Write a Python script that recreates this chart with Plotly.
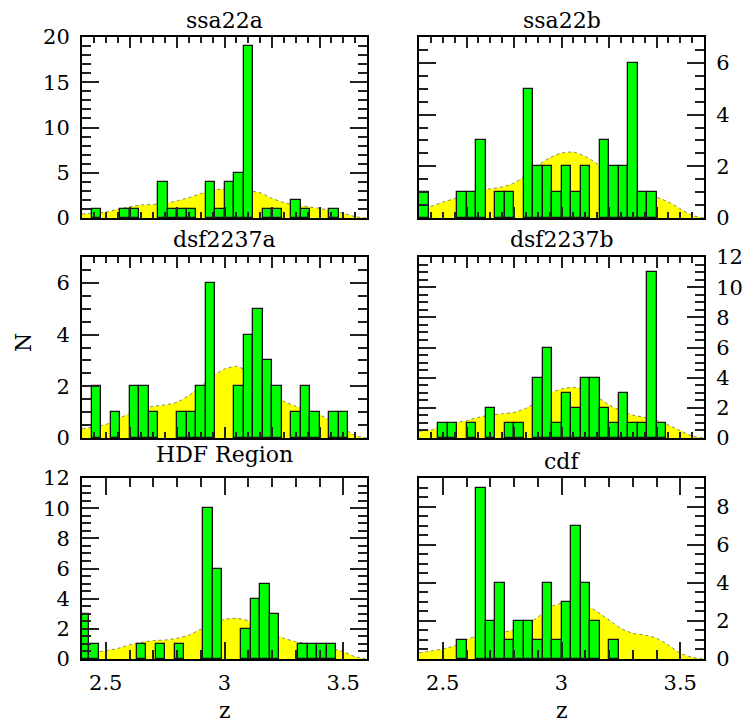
import plotly.graph_objects as go

# ---------------- data ----------------
bin_width = 0.04
z_grid = [2.40, 2.45, 2.50, 2.55, 2.60, 2.65, 2.70, 2.75, 2.80, 2.85, 2.90, 2.95,
          3.00, 3.05, 3.10, 3.15, 3.20, 3.25, 3.30, 3.35, 3.40, 3.45, 3.50, 3.55, 3.60]

panel_names = ["ssa22a", "ssa22b", "dsf2237a", "dsf2237b", "HDF Region", "cdf"]

# first bin edge for each field
ssa22a_edge0 = 2.40
ssa22b_edge0 = 2.40
dsf2237a_edge0 = 2.40
dsf2237b_edge0 = 2.40
hdf_edge0 = 2.39
cdf_edge0 = 2.40

# histogram counts (30 bins each, width 0.04)
ssa22a_counts = [0, 1, 0, 0, 1, 1, 0, 0, 4, 1, 1, 1, 0, 4, 1, 4, 5, 19, 0, 1, 1, 0, 2, 1, 0, 0, 1, 0, 0, 0]
ssa22b_counts = [1, 0, 0, 0, 1, 1, 3, 0, 1, 1, 0, 5, 2, 2, 1, 2, 1, 2, 0, 3, 2, 2, 6, 1, 1, 0, 0, 0, 0, 0]
dsf2237a_counts = [0, 2, 0, 1, 0, 2, 2, 1, 0, 0, 1, 1, 2, 6, 0, 0, 2, 4, 5, 3, 2, 0, 1, 2, 1, 0, 1, 1, 0, 0]
dsf2237b_counts = [0, 0, 1, 1, 0, 1, 0, 2, 0, 1, 1, 0, 4, 6, 1, 3, 2, 4, 4, 2, 1, 3, 1, 1, 11, 1, 0, 0, 0, 0]
hdf_counts = [3, 1, 0, 0, 0, 0, 1, 0, 1, 0, 1, 0, 0, 10, 6, 0, 0, 2, 4, 5, 3, 0, 0, 1, 1, 1, 1, 0, 0, 0]
cdf_counts = [0, 0, 0, 0, 1, 0, 9, 2, 4, 1, 2, 2, 1, 4, 1, 3, 7, 4, 2, 0, 1, 0, 0, 0, 0, 0, 0, 0, 0, 0]

# smooth expected distribution (yellow), sampled on z_grid
ssa22a_sel = [0.44, 0.55, 0.65, 0.96, 1.25, 1.43, 1.50, 1.60, 1.90, 2.25, 2.70, 3.10, 3.20,
              3.17, 3.00, 2.80, 2.17, 1.70, 1.44, 1.25, 1.07, 0.81, 0.52, 0.15, 0.0]
ssa22b_sel = [0.36, 0.45, 0.62, 0.75, 0.94, 1.07, 1.13, 1.20, 1.35, 1.65, 2.03, 2.33, 2.51,
              2.55, 2.38, 2.10, 1.71, 1.35, 1.13, 1.00, 0.81, 0.62, 0.36, 0.10, 0.0]
dsf2237a_sel = [0.35, 0.43, 0.52, 0.74, 0.94, 1.12, 1.23, 1.28, 1.38, 1.64, 2.00, 2.39, 2.67,
                2.77, 2.58, 2.13, 1.74, 1.42, 1.23, 1.06, 0.90, 0.65, 0.39, 0.09, 0.0]
dsf2237b_sel = [0.46, 0.53, 0.80, 1.02, 1.15, 1.37, 1.52, 1.60, 1.70, 1.97, 2.40, 2.96, 3.25,
                3.36, 3.18, 2.74, 2.19, 1.81, 1.52, 1.37, 1.19, 0.86, 0.49, 0.13, 0.0]
hdf_sel = [0.30, 0.44, 0.55, 0.70, 0.93, 1.10, 1.22, 1.26, 1.37, 1.59, 1.97, 2.36, 2.63,
           2.70, 2.54, 2.19, 1.70, 1.37, 1.15, 1.04, 0.99, 0.70, 0.49, 0.15, 0.0]
cdf_sel = [0.33, 0.42, 0.53, 0.70, 1.00, 1.26, 1.35, 1.40, 1.53, 1.79, 2.19, 2.72, 2.93,
           2.96, 2.84, 2.49, 2.05, 1.61, 1.35, 1.26, 1.09, 0.74, 0.30, 0.09, 0.0]

y_max = [20, 7, 7, 12, 12, 9.5]
y_major = [5, 2, 2, 2, 2, 2]
y_minor = [1, 0.5, 0.5, 0.5, 0.5, 0.5]

x_range = [2.4, 3.6]
x_tickvals_bottom = [2.5, 3.0, 3.5]
x_ticktext_bottom = ["2.5", "3", "3.5"]

edges0 = [ssa22a_edge0, ssa22b_edge0, dsf2237a_edge0, dsf2237b_edge0, hdf_edge0, cdf_edge0]
counts = [ssa22a_counts, ssa22b_counts, dsf2237a_counts, dsf2237b_counts, hdf_counts, cdf_counts]
sels = [ssa22a_sel, ssa22b_sel, dsf2237a_sel, dsf2237b_sel, hdf_sel, cdf_sel]

# ---------------- layout geometry ----------------
W, H = 756, 726
FONT = "DejaVu Serif"
TICKC = "#222222"
panel_px = [  # (x0, x1, y_top, y_bottom) in window pixels
    (82, 367, 37, 218), (419, 704, 37, 218),
    (82, 367, 257, 438), (419, 704, 257, 438),
    (82, 367, 478, 659), (419, 704, 478, 659),
]
title_pos = [(224.5, 20), (561.5, 20), (224.5, 239), (561.5, 239), (224.5, 454), (561.5, 461)]


def px_x(p):
    return p / W


def px_y(p):
    return 1 - p / H


fig = go.Figure()
layout = dict(
    template="none",
    width=W, height=H, margin=dict(l=0, r=0, t=0, b=0, pad=0),
    paper_bgcolor="white", plot_bgcolor="white", showlegend=False,
    font=dict(family=FONT, color="black", size=20),
    bargap=0,
)

annotations = []
for i in range(6):
    n = i + 1
    m = i + 7
    xa, ya = ("x", "y") if n == 1 else (f"x{n}", f"y{n}")
    xo, yo = f"x{m}", f"y{m}"
    # yellow curve on base axes
    fig.add_trace(go.Scatter(
        x=z_grid, y=sels[i], mode="lines", fill="tozeroy",
        fillcolor="#FFFF00",
        line=dict(color="#666666", width=0.8, dash="dot", shape="spline", smoothing=0.6),
        xaxis=xa, yaxis=ya, hoverinfo="skip"))
    # histogram bars on overlaid axes (drawn above the curve)
    cx, cy = [], []
    for k, c in enumerate(counts[i]):
        if c > 0:
            cx.append(edges0[i] + bin_width * (k + 0.5))
            cy.append(c)
    fig.add_trace(go.Bar(
        x=cx, y=cy, width=bin_width,
        marker=dict(color="#00FF00", line=dict(color="#111111", width=1.3)),
        xaxis=xo, yaxis=yo, hoverinfo="skip"))

    x0, x1, yt, yb = panel_px[i]
    bottom = i >= 4
    right = i % 2 == 1
    xkey = "xaxis" if n == 1 else f"xaxis{n}"
    ykey = "yaxis" if n == 1 else f"yaxis{n}"
    xd = dict(
        domain=[px_x(x0), px_x(x1)], anchor=ya, range=x_range, automargin=False,
        showline=True, linecolor="black", linewidth=2, mirror="ticks",
        showgrid=False, zeroline=False, ticks="inside", tickcolor=TICKC, tickwidth=1.5,
        layer="above traces",
    )
    if bottom:
        xd.update(tickmode="array", tickvals=x_tickvals_bottom, ticktext=x_ticktext_bottom,
                  ticklen=17, showticklabels=True, ticklabelstandoff=4,
                  tickfont=dict(family=FONT, size=21),
                  minor=dict(dtick=0.1, tick0=2.4, ticklen=9, ticks="inside",
                             tickcolor=TICKC, tickwidth=1.5, showgrid=False))
    else:
        xd.update(tick0=2.6, dtick=0.2, ticklen=11, showticklabels=False,
                  minor=dict(dtick=0.05, tick0=2.4, ticklen=6, ticks="inside",
                             tickcolor=TICKC, tickwidth=1.5, showgrid=False))
    yd = dict(
        domain=[px_y(yb), px_y(yt)], anchor=xa, range=[0, y_max[i]], automargin=False,
        side="right" if right else "left",
        showline=True, linecolor="black", linewidth=2, mirror="ticks",
        showgrid=False, zeroline=False, ticks="inside", tickcolor=TICKC, tickwidth=1.5,
        tick0=0, dtick=y_major[i], ticklen=17, ticklabelstandoff=6,
        tickfont=dict(family=FONT, size=21), layer="above traces",
        minor=dict(dtick=y_minor[i], tick0=0, ticklen=9, ticks="inside",
                   tickcolor=TICKC, tickwidth=1.5, showgrid=False),
    )
    layout[xkey] = xd
    layout[ykey] = yd
    layout[f"xaxis{m}"] = dict(overlaying=xa, anchor=yo, range=x_range, visible=False,
                               showgrid=False, zeroline=False, automargin=False)
    layout[f"yaxis{m}"] = dict(overlaying=ya, anchor=xo, range=[0, y_max[i]], visible=False,
                               showgrid=False, zeroline=False, automargin=False)

    tx, ty = title_pos[i]
    annotations.append(dict(text=panel_names[i], x=px_x(tx), y=px_y(ty), xref="paper", yref="paper",
                            xanchor="center", yanchor="middle", showarrow=False,
                            font=dict(family=FONT, size=22, color="black")))

annotations.append(dict(text="N", x=px_x(24), y=px_y(343), xref="paper", yref="paper", textangle=-90,
                        xanchor="center", yanchor="middle", showarrow=False,
                        font=dict(family=FONT, size=22, color="black")))
for zx in (224.5, 561.5):
    annotations.append(dict(text="z", x=px_x(zx), y=px_y(710), xref="paper", yref="paper",
                            xanchor="center", yanchor="middle", showarrow=False,
                            font=dict(family=FONT, size=22, color="black")))

layout["annotations"] = annotations
fig.update_layout(**layout)
fig.write_html(
    "out.html",
    config={"displayModeBar": False},
    post_script="document.documentElement.style.margin='0';"
                "document.body.style.margin='0';document.body.style.overflow='hidden';",
)
